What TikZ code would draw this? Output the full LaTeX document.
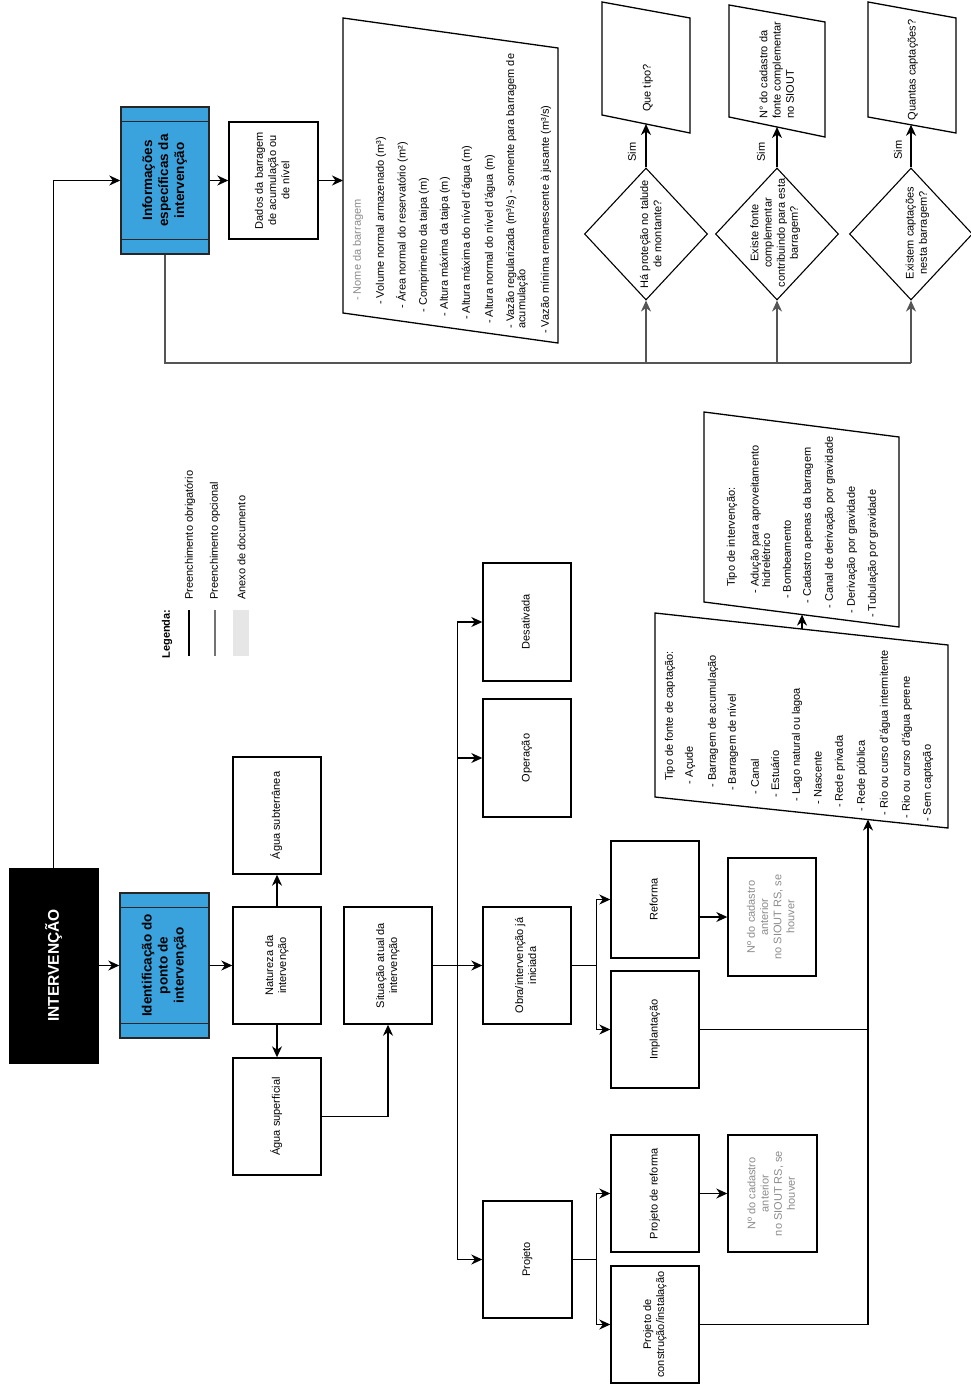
\documentclass[tikz,border=0pt]{standalone}
\usepackage{fontspec}
\setmainfont{Liberation Sans}
\usepackage{graphicx}
\usetikzlibrary{arrows.meta,calc,shapes.geometric}
\definecolor{blu}{HTML}{3AA3DD}
\definecolor{gtx}{HTML}{8C8C8C}
\definecolor{gln}{HTML}{555555}
\definecolor{glg}{HTML}{E6E6E6}
\newcommand{\rc}[1]{\rotatebox{90}{\begin{tabular}{@{}c@{}}#1\end{tabular}}}
\newcommand{\rl}[1]{\rotatebox{90}{\begin{tabular}{@{}l@{}}#1\end{tabular}}}
\newcommand{\nf}{\fontsize{11}{13.2}\selectfont}
\newcommand{\bfn}{\fontsize{13.5}{16}\selectfont\bfseries}
\begin{document}
\begin{tikzpicture}[x=1pt,y=-1pt,
  box/.style={draw=black, line width=1.4pt, fill=white, inner sep=0pt, font=\nf},
  bluebox/.style={draw=black!85, line width=1.4pt, fill=blu, inner sep=0pt, font=\bfn},
  blk/.style={draw=black, fill=black, text=white, inner sep=0pt, font=\fontsize{15.5}{18}\selectfont\bfseries},
  arr/.style={-{Stealth[length=11pt,width=10pt,inset=3.5pt]}, line width=1.3pt},
  garr/.style={-{Stealth[length=11pt,width=10pt,inset=3.5pt]}, line width=1.3pt, draw=gln},
  ln/.style={line width=1.3pt},
  gln/.style={line width=1.3pt, draw=gln},
  poly/.style={draw=black, line width=1.3pt, fill=white},
  dia/.style={draw=black, shape=diamond, inner sep=0pt, line width=1.1pt, fill=white},
  txt/.style={inner sep=0pt, font=\nf},
  li/.style={inner sep=0pt, font=\nf, anchor=south},
  inner/.style={line width=1pt, draw=black!85}
]
\useasboundingbox (0,0) rectangle (970,1388);

% ---------- main column boxes ----------
\node[blk, minimum width=89, minimum height=195] (int) at (53.5,965.5) {\rotatebox{90}{INTERVENÇÃO}};
\node[bluebox, minimum width=89, minimum height=145] (id) at (164.5,965.5) {\rc{Identificação do\\ponto de\\intervenção}};
\draw[inner] ([yshift=-15pt]id.north west) -- ([yshift=-15pt]id.north east);
\draw[inner] ([yshift=15pt]id.south west) -- ([yshift=15pt]id.south east);
\node[bluebox, minimum width=88, minimum height=147] (inf) at (165,180.5) {\rc{Informações\\específicas da\\intervenção}};
\draw[inner] ([yshift=-15pt]inf.north west) -- ([yshift=-15pt]inf.north east);
\draw[inner] ([yshift=15pt]inf.south west) -- ([yshift=15pt]inf.south east);

\node[box, minimum width=89, minimum height=117] (dad) at (273.5,180.5) {\rc{Dados da barragem\\de acumulação ou\\de nível}};

\node[box, minimum width=88, minimum height=117] (nat) at (277,965.5) {\rc{Natureza da\\intervenção}};
\node[box, minimum width=88, minimum height=117] (sub) at (277,815.5) {\rc{Água subterrânea}};
\node[box, minimum width=88, minimum height=117] (sup) at (277,1116.5) {\rc{Água superficial}};
\node[box, minimum width=88, minimum height=117] (sit) at (388,965.5) {\rc{Situação atual da\\intervenção}};

\node[box, minimum width=88, minimum height=117] (obr) at (527,965.5) {\rc{Obra/intervenção já\\iniciada}};
\node[box, minimum width=88, minimum height=118] (des) at (527,622) {\rc{Desativada}};
\node[box, minimum width=88, minimum height=118] (ope) at (527,758) {\rc{Operação}};
\node[box, minimum width=89, minimum height=117] (pro) at (527.5,1259.5) {\rc{Projeto}};

\node[box, minimum width=88, minimum height=117] (ref) at (655,899.5) {\rc{Reforma}};
\node[box, minimum width=88, minimum height=117] (imp) at (655,1029.5) {\rc{Implantação}};
\node[box, minimum width=88, minimum height=117] (prf) at (655,1193.5) {\rc{Projeto de reforma}};
\node[box, minimum width=88, minimum height=117] (pcn) at (655,1324.5) {\rc{Projeto de\\construção/instalação}};

\node[box, minimum width=88, minimum height=118, text=gtx] (nr1) at (772,917) {\rc{Nº do cadastro\\anterior\\no SIOUT RS, se\\houver}};
\node[box, minimum width=89, minimum height=117, text=gtx] (nr2) at (772.5,1193.5) {\rc{Nº do cadastro\\anterior\\no SIOUT RS, se\\houver}};

% ---------- connectors, lower part ----------
\draw[arr] (int.east) -- (id.west);
\draw[arr] (id.east) -- (nat.west);
\draw[arr] (nat.north) -- (sub.south);
\draw[arr] (nat.south) -- (sup.north);
\draw[arr] (sup.east) -| (sit.south);
\coordinate (bus) at ($(sit.east)!0.5!(obr.west)$);
\draw[arr] (sit.east) -- (obr.west);
\draw[arr] (bus) |- (des.west);
\draw[arr] (bus) |- (ope.west);
\draw[arr] (bus) |- (pro.west);
\draw[arr] (obr.east) -- ++(25,0) |- (ref.west);
\draw[arr] (obr.east) -- ++(25,0) |- (imp.west);
\draw[arr] (pro.east) -- ++(24,0) |- (prf.west);
\draw[arr] (pro.east) -- ++(24,0) |- (pcn.west);
\draw[arr] (ref.east |- nr1.west) -- (nr1.west);
\draw[arr] (prf.east) -- (nr2.west);

% ---------- upper part ----------
\draw[arr] (int.north) |- (inf.west);
\draw[arr] (inf.east) -- (dad.west);

% dam data parallelogram
\draw[poly] (343,18) -- (558,48) -- (558,343) -- (343,313) -- cycle;
\coordinate (damL) at (343,180.5);
\draw[arr] (dad.east) -- (damL);
\node[li, text=gtx] (dm1) at (358,301) {\rotatebox{90}{- Nome da barragem}};
\node[li] (dm2) at (381,305) {\rotatebox{90}{- Volume normal armazenado (m³)}};
\node[li] (dm3) at (402,308.7) {\rotatebox{90}{- Área normal do reservatório (m²)}};
\node[li] (dm4) at (424,312.6) {\rotatebox{90}{- Comprimento da taipa (m)}};
\node[li] (dm5) at (445,316.2) {\rotatebox{90}{- Altura máxima da taipa (m)}};
\node[li] (dm6) at (467,320) {\rotatebox{90}{- Altura máxima do nível d'água (m)}};
\node[li] (dm7) at (490,324) {\rotatebox{90}{- Altura normal do nível d'água (m)}};
\node[li] (dm8) at (517.5,328.9) {\fontsize{11}{11}\selectfont\rl{- Vazão regularizada (m³/s) - somente para barragem de\\acumulação}};
\node[li] (dm9) at (546,334) {\rotatebox{90}{- Vazão mínima remanescente à jusante (m³/s)}};

% diamonds
\node[dia, minimum width=123, minimum height=132] (d1) at (646,234) {};
\node[dia, minimum width=123, minimum height=132] (d2) at (777,234) {};
\node[dia, minimum width=123, minimum height=132] (d3) at (911,234) {};
\node[txt] (d1t) at (652,234) {\rc{Há proteção no talude\\de montante?}};
\node[txt] (d2t) at (775.5,233) {\rc{Existe fonte\\complementar\\contribuindo para esta\\barragem?}};
\node[txt] (d3t) at (917.5,233) {\rc{Existem captações\\nesta barragem?}};

% gray bus from Informações
\coordinate (gb) at (165,363);
\draw[gln] (inf.south) -- (gb) -- (gb -| d3.south);
\draw[garr] (gb -| d1.south) -- (d1.south);
\draw[garr] (gb -| d2.south) -- (d2.south);
\draw[garr] (gb -| d3.south) -- (d3.south);

% answer parallelograms
\draw[poly] (602,2) -- (690,18) -- (690,133) -- (602,115) -- cycle;
\draw[poly] (729,5) -- (825,22) -- (825,137) -- (729,117) -- cycle;
\draw[poly] (868,2) -- (956,18) -- (956,133) -- (868,117) -- cycle;
\coordinate (p1b) at (646,124);
\coordinate (p2b) at (777,127);
\coordinate (p3b) at (911,124.8);
\node[txt] (p1t) at (648,88) {\rc{Que tipo?}};
\node[li] (p2t) at (778,119) {\rl{N° do cadastro da\\fonte complementar\\no SIOUT}};
\node[txt] (p3t) at (913,70) {\rc{Quantas captações?}};
\draw[arr] (d1.north) -- (p1b);
\draw[arr] (d2.north) -- (p2b);
\draw[arr] (d3.north) -- (p3b);
\node[txt] (s1) at (632,152) {\rotatebox{90}{Sim}};
\node[txt] (s2) at (761,152) {\rotatebox{90}{Sim}};
\node[txt] (s3) at (898,150) {\rotatebox{90}{Sim}};

% ---------- captação and tipo de intervenção ----------
\draw[poly] (655,613) -- (948,645) -- (948,828) -- (655,797) -- cycle;
\draw[poly] (704,412) -- (899,437) -- (899,627) -- (704,602) -- cycle;
\coordinate (capB) at (868,819.5);
\coordinate (capT) at (802,629);
\coordinate (tipB) at (802,614.6);
\draw[arr] (pcn.east) -| (capB);
\draw[ln] (imp.east) -- (imp.east -| capB);
\draw[arr] (capT) -- (tipB);

\node[li] (c0) at (670,781) {\rotatebox{90}{Tipo de fonte de captação:}};
\node[li] (c1) at (690,784.2) {\rotatebox{90}{- Açude}};
\node[li] (c2) at (713,787.8) {\rotatebox{90}{- Barragem de acumulação}};
\node[li] (c3) at (733,791) {\rotatebox{90}{- Barragem de nível}};
\node[li] (c4) at (755,794.5) {\rotatebox{90}{- Canal}};
\node[li] (c5) at (775,797.7) {\rotatebox{90}{- Estuário}};
\node[li] (c6) at (797,801.2) {\rotatebox{90}{- Lago natural ou lagoa}};
\node[li] (c7) at (818,804.5) {\rotatebox{90}{- Nascente}};
\node[li] (c8) at (840,808) {\rotatebox{90}{- Rede privada}};
\node[li] (c9) at (862,811.5) {\rotatebox{90}{- Rede pública}};
\node[li] (c10) at (885,815.2) {\rotatebox{90}{- Rio ou curso d'água intermitente}};
\node[li] (c11) at (907,818.7) {\rotatebox{90}{- Rio ou curso d'água perene}};
\node[li] (c12) at (928,822) {\rotatebox{90}{- Sem captação}};

\node[li] (t0) at (732,587) {\rotatebox{90}{Tipo de intervenção:}};
\node[li] (t1) at (762,593.6) {\fontsize{11}{11}\selectfont\rl{- Adução para aproveitamento\\\ \ hidrelétrico}};
\node[li] (t2) at (787,599) {\rotatebox{90}{- Bombeamento}};
\node[li] (t3) at (808,603.7) {\rotatebox{90}{- Cadastro apenas da barragem}};
\node[li] (t4) at (830,608.6) {\rotatebox{90}{- Canal de derivação por gravidade}};
\node[li] (t5) at (852,613.4) {\rotatebox{90}{- Derivação por gravidade}};
\node[li] (t6) at (873,618) {\rotatebox{90}{- Tubulação por gravidade}};

% ---------- legend ----------
\node[txt, font=\nf\bfseries] (leg) at (167,634) {\rotatebox{90}{Legenda:}};
\coordinate (lb1) at (189,610);
\coordinate (lb2) at (189,656);
\coordinate (lg1) at (215,610);
\coordinate (lg2) at (215,656);
\draw[line width=2.2pt] (lb1) -- (lb2);
\draw[line width=2.2pt, draw=black!55] (lg1) -- (lg2);
\fill[glg] (233,610) rectangle (249,656);
\node[li] (lt1) at (190,600) {\rotatebox{90}{Preenchimento obrigatório}};
\node[li] (lt2) at (215,600) {\rotatebox{90}{Preenchimento opcional}};
\node[li] (lt3) at (241.5,600) {\rotatebox{90}{Anexo de documento}};
\end{tikzpicture}
\end{document}
